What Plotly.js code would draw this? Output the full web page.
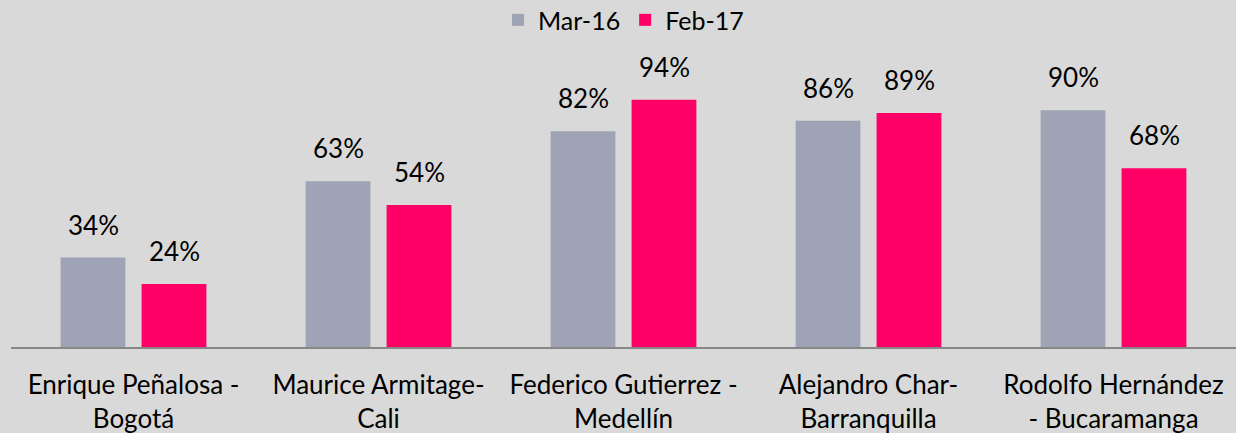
<!DOCTYPE html>
<html><head><meta charset="utf-8">
<script src="https://cdn.plot.ly/plotly-3.0.1.min.js"></script>
<style>html,body{margin:0;padding:0;background:#D9D9D9;}#c{width:1236px;height:433px;}</style>
</head><body><div id="c"></div>
<script>
const categories = ["Enrique Peñalosa -<br>Bogotá", "Maurice Armitage-<br>Cali", "Federico Gutierrez -<br>Medellín", "Alejandro Char-<br>Barranquilla", "Rodolfo Hernández<br>- Bucaramanga"];
const seriesNames = ["Mar-16", "Feb-17"];
const mar16 = [34, 63, 82, 86, 90];
const feb17 = [24, 54, 94, 89, 68];
const colors = ["#9EA3B5", "#FF0066"];
const FONT = "Lato, 'Open Sans', sans-serif";

const traces = [mar16, feb17].map((vals, i) => ({
  type: "bar", name: seriesNames[i], x: categories, y: vals,
  marker: {color: colors[i]}, hoverinfo: "none"
}));

const annotations = [];
[mar16, feb17].forEach((vals, i) => {
  vals.forEach((v, j) => {
    annotations.push({x: categories[j], y: v, text: v + "%", showarrow: false,
      xref: "x", yref: "y", yanchor: "bottom", xshift: i === 0 ? -40 : 41, yshift: 15,
      font: {family: FONT, size: 26, color: "#000"}});
  });
});

const layout = {
  width: 1236, height: 433,
  paper_bgcolor: "#D9D9D9", plot_bgcolor: "#D9D9D9",
  margin: {l: 11, r: 0, t: 84, b: 86, autoexpand: false},
  barmode: "group", bargap: 0.339, bargroupgap: 0.2,
  showlegend: true,
  legend: {orientation: "h", x: 0.5, xanchor: "center", y: 1.243, yanchor: "middle",
    font: {family: FONT, size: 25, color: "#000"}, itemwidth: 30, traceorder: "normal"},
  xaxis: {showline: true, linecolor: "#878787", linewidth: 2, ticks: "", showgrid: false,
    tickfont: {family: FONT, size: 26, color: "#000"}, ticklabelstandoff: 14},
  yaxis: {range: [0, 100], visible: false, showgrid: false, zeroline: false},
  annotations: annotations,
  font: {family: FONT}
};
Plotly.newPlot("c", traces, layout, {displayModeBar: false, staticPlot: true});
</script></body></html>
